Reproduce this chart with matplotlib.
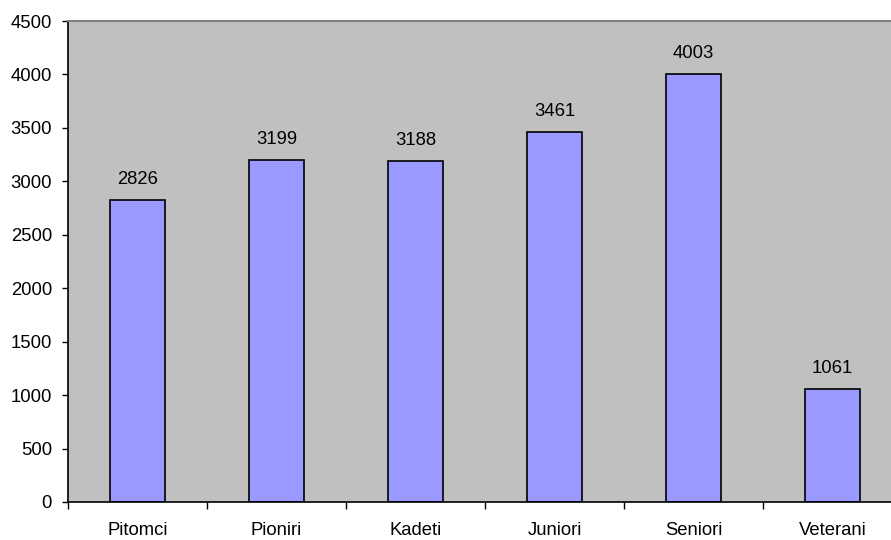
import matplotlib.pyplot as plt
import numpy as np

categories = ['Pitomci', 'Pioniri', 'Kadeti', 'Juniori', 'Seniori', 'Veterani']
values = [2826, 3199, 3188, 3461, 4003, 1061]
y_ticks = [0, 500, 1000, 1500, 2000, 2500, 3000, 3500, 4000, 4500]

plt.rcParams['font.family'] = ['Liberation Sans', 'DejaVu Sans']
fs = 13.3

fig = plt.figure(figsize=(8.91, 5.4), dpi=100)
# plot area runs past the right edge, like the original
ax = fig.add_axes([68 / 891, 38 / 540, 834 / 891, 481 / 540])
ax.set_facecolor('#C0C0C0')

x = np.arange(len(categories))
ax.bar(x, values, width=0.4, color='#9999FF', edgecolor='black', linewidth=1.2, zorder=2)

for xi, v in zip(x, values):
    ax.annotate(str(v), (xi, v), xytext=(0, 12), textcoords='offset pixels',
                ha='center', va='bottom', fontsize=fs)

ax.set_xlim(-0.5, len(categories) - 0.5)
ax.set_ylim(0, 4500)
ax.set_yticks(y_ticks)
ax.set_xticks(x)
ax.set_xticklabels(categories)
ax.set_xticks(np.arange(len(categories) + 1) - 0.5, minor=True)

ax.tick_params(axis='y', length=4.5, width=1, labelsize=fs, pad=7)
ax.tick_params(axis='x', which='major', length=0, labelsize=fs, pad=14.5)
ax.tick_params(axis='x', which='minor', length=5, width=1)

ax.spines['top'].set_color('#808080')
ax.spines['top'].set_linewidth(1.5)
ax.spines['right'].set_visible(False)
ax.spines['left'].set_linewidth(1.2)
ax.spines['bottom'].set_linewidth(1.2)

fig.savefig('out.png', dpi=100)
